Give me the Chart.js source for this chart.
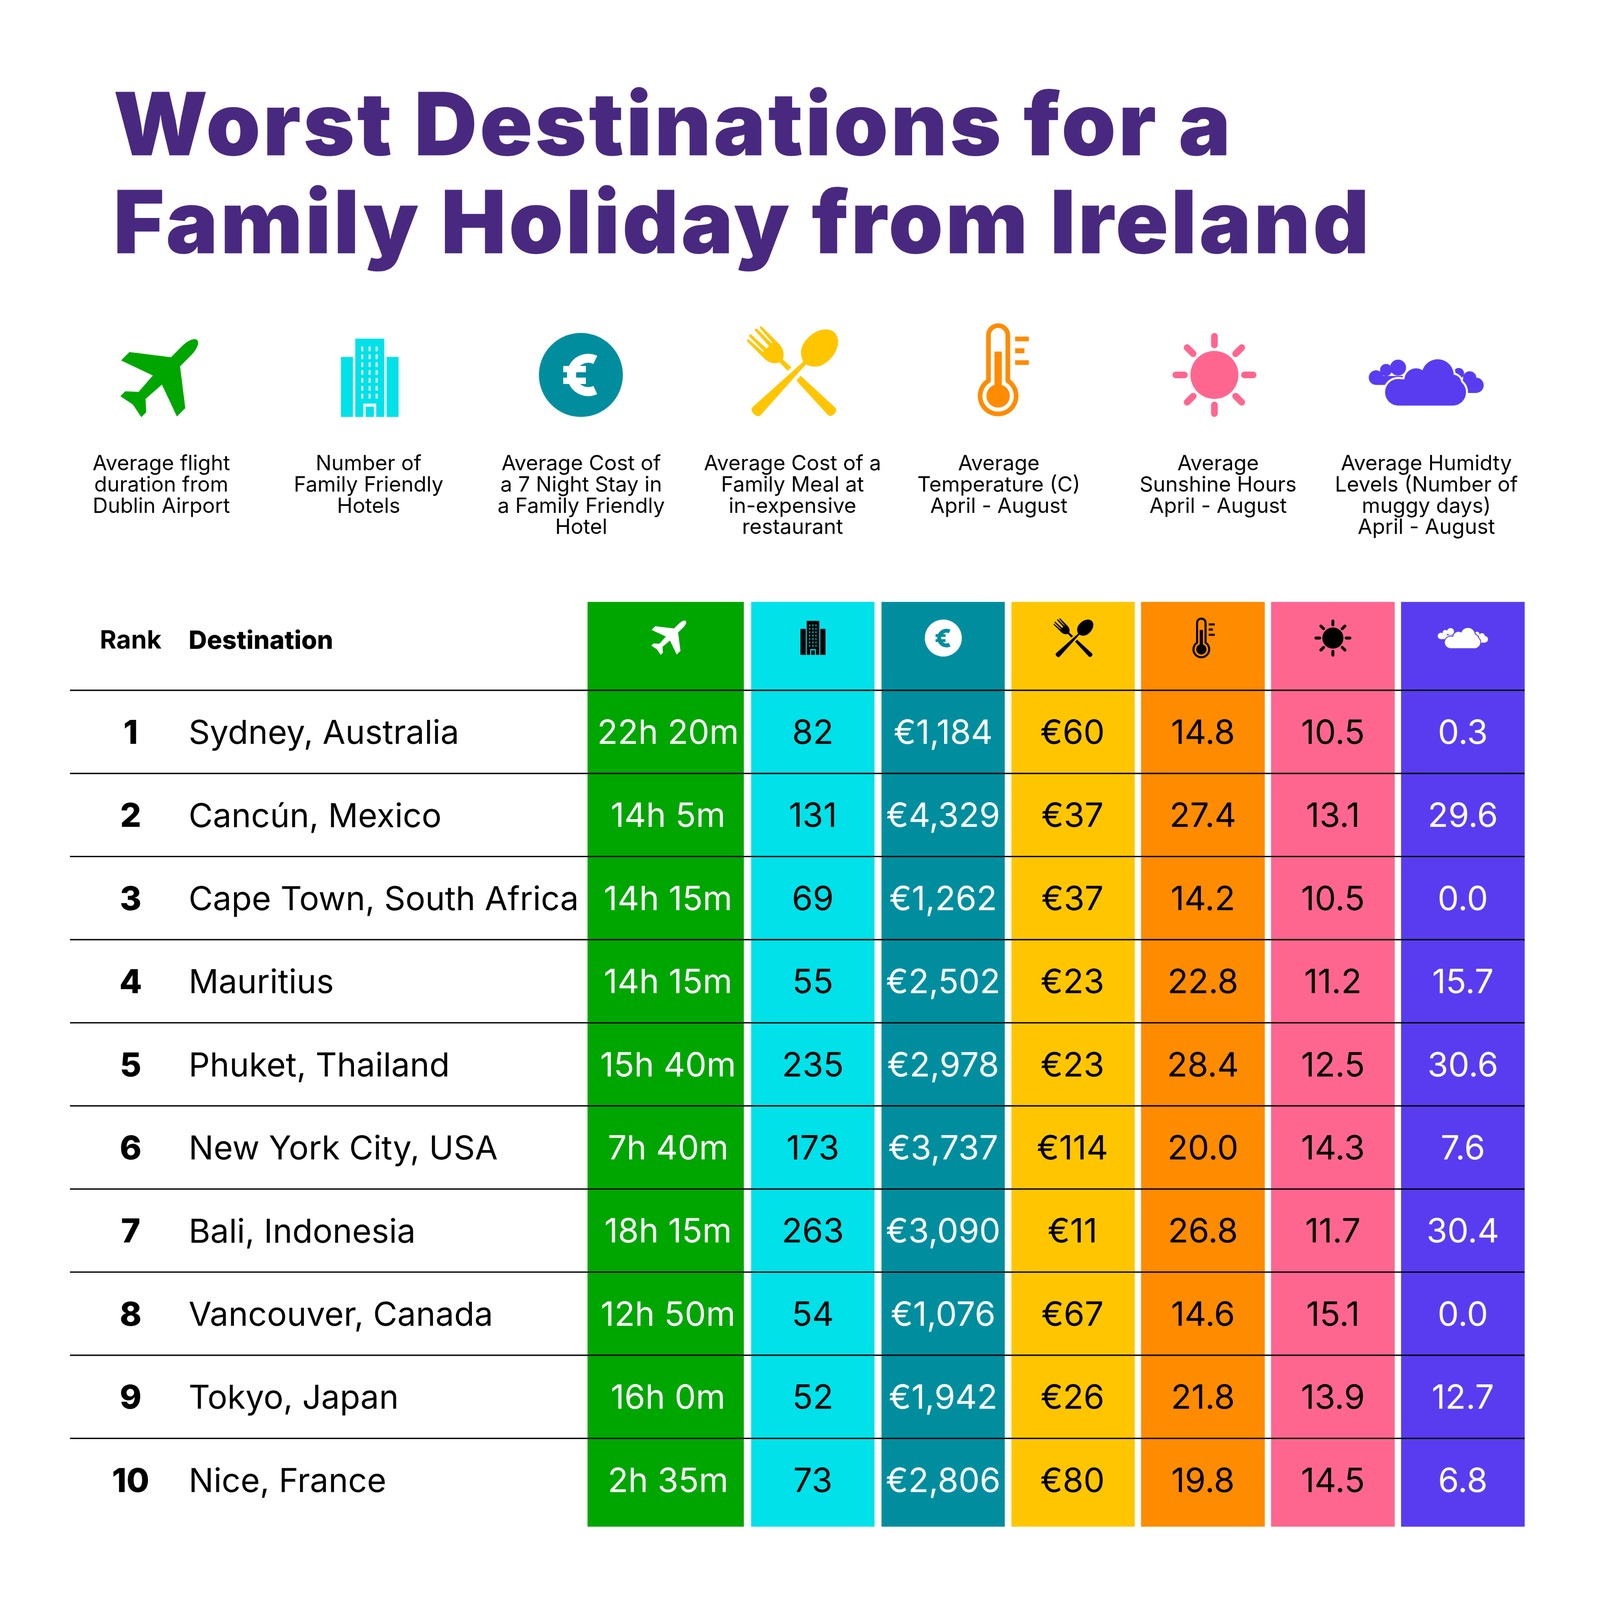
<!DOCTYPE html>
<html><head><meta charset="utf-8">
<style>html,body{margin:0;padding:0;background:#fff;overflow:hidden}canvas{display:block}</style>
<script src="https://cdn.jsdelivr.net/npm/chart.js@4"></script>
</head><body><canvas id="c" width="4801" height="4774" style="width:100vw;height:calc(100vw * 4774 / 4801)"></canvas>
<script>
const titleLines = ['Worst Destinations for a','Family Holiday from Ireland'];
const ranks = [1,2,3,4,5,6,7,8,9,10];
const destinations = ['Sydney, Australia','Cancún, Mexico','Cape Town, South Africa','Mauritius','Phuket, Thailand','New York City, USA','Bali, Indonesia','Vancouver, Canada','Tokyo, Japan','Nice, France'];
const flightDuration = ['22h 20m','14h 5m','14h 15m','14h 15m','15h 40m','7h 40m','18h 15m','12h 50m','16h 0m','2h 35m'];
const hotels = [82,131,69,55,235,173,263,54,52,73];
const stayCost = ['€1,184','€4,329','€1,262','€2,502','€2,978','€3,737','€3,090','€1,076','€1,942','€2,806'];
const mealCost = ['€60','€37','€37','€23','€23','€114','€11','€67','€26','€80'];
const temperature = ['14.8','27.4','14.2','22.8','28.4','20.0','26.8','14.6','21.8','19.8'];
const sunshine = ['10.5','13.1','10.5','11.2','12.5','14.3','11.7','15.1','13.9','14.5'];
const humidity = ['0.3','29.6','0.0','15.7','30.6','7.6','30.4','0.0','12.7','6.8'];
const captions = [
 ['Average flight','duration from','Dublin Airport'],
 ['Number of','Family Friendly','Hotels'],
 ['Average Cost of','a 7 Night Stay in','a Family Friendly','Hotel'],
 ['Average Cost of a','Family Meal at','in-expensive','restaurant'],
 ['Average','Temperature (C)','April - August'],
 ['Average','Sunshine Hours','April - August'],
 ['Average Humidty','Levels (Number of','muggy days)','April - August']
];

// ---- layout (reference pixels) ----
const W=4801,H=4774, ROW_H=249.4, ROW1_Y=2196, TABLE_TOP=1806, TABLE_BOTTOM=4581, RULE_L=210, RULE_R=4575, HEADER_TEXT_Y=1924;
const valueOf = px => 1+(px-ROW1_Y)/ROW_H;
const columns = [
 {name:'flight',values:flightDuration,l:1763,r:2232,dx:7,fill:'#00A600',text:'#fff',icon:'plane',hFg:'#fff',capX:484,iconBox:[361,1020,231,232],hBox:[1954,1863,104,102]},
 {name:'hotels',values:hotels,l:2254,r:2624,dx:0,fill:'#00E1E9',text:'#000',icon:'building',hFg:'#000',capX:1106,iconBox:[1023,1016,173,235],hBox:[2402,1863,75,102]},
 {name:'stay',values:stayCost,l:2645,r:3015,dx:0,fill:'#008E9F',text:'#fff',icon:'euro',hFg:'#fff',capX:1744,iconBox:[1617,999,252,252],hBox:[2775,1859,111,111]},
 {name:'meal',values:mealCost,l:3035,r:3405,dx:-2,fill:'#FFC600',text:'#000',icon:'cutlery',hFg:'#000',capX:2378,iconBox:[2254,995,257,254],hBox:[3167,1862,112,110]},
 {name:'temperature',values:temperature,l:3424,r:3795,dx:0,fill:'#FF8B00',text:'#000',icon:'thermo',hFg:'#000',capX:2997,iconBox:[2934,970,153,281],hBox:[3578,1853,67,123]},
 {name:'sunshine',values:sunshine,l:3814,r:4185,dx:0,fill:'#FF668F',text:'#000',icon:'sun',hFg:'#000',capX:3655,iconBox:[3518,999,252,252],hBox:[3944,1859,111,111]},
 {name:'humidity',values:humidity,l:4204,r:4575,dx:0,fill:'#5A3CF0',text:'#fff',icon:'cloud',hFg:'#fff',capX:4280,iconBox:[4107,1078,345,139],hBox:[4314,1884,151,61]}
];
const FONT='Inter, sans-serif';
const TITLE_COLOR='#48297F';
const TICK_NUDGE=0.025;

// ---- icons, in own viewBoxes ----
const circle=(x,y,r)=>`M${x-r},${y}a${r},${r} 0 1,0 ${2*r},0a${r},${r} 0 1,0 ${-2*r},0Z`;
const ICONS={
 plane:{vb:[-85,-71,156,156],draw(c,fg,bg){c.rotate(Math.PI/4);c.fillStyle=fg;
   c.fill(new Path2D('M0,-100C8,-100 13,-85 13,-70L13,-38L80,14L80,38L13,14L10,58L30,76L30,90L0,84L-30,90L-30,76L-10,58L-13,14L-80,38L-80,14L-13,-38L-13,-70C-13,-85 -8,-100 0,-100Z'));}},
 building:{vb:[0,0,173,235],draw(c,fg,bg){c.fillStyle=fg;c.fillRect(0,55,36,180);c.fillRect(137,55,36,180);c.fillRect(43,0,87,235);
   c.fillStyle=bg;for(let i=0;i<7;i++)for(const x of [61,83,104])c.fillRect(x,24+i*23.6,6,14);
   c.fillRect(67,195,39,40);c.fillStyle=fg;c.fillRect(74,204,25,31);}},
 euro:{vb:[-126,-126,252,252],draw(c,fg,bg){c.fillStyle=fg;c.beginPath();c.arc(0,0,126,0,7);c.fill();
   c.strokeStyle=bg;c.lineWidth=27;c.lineCap='butt';c.beginPath();c.arc(22,0,50,Math.PI*0.36,Math.PI*1.64);c.stroke();
   c.fillStyle=bg;c.fillRect(-53,-27,68,19);c.fillRect(-53,8,68,19);}},
 cutlery:{vb:[0,0,273,269],draw(c,fg,bg){
   const fork=new Path2D('M-17,0Q-17,-14 0,-14Q17,-14 17,0L7,232Q34,245 34,280L34,355Q34,360 30,360Q26,360 26,355L22,295L18,295L18,362Q18,366 13,366Q9,366 9,362L6,295L-6,295L-9,362Q-9,366 -13,366Q-18,366 -18,362L-18,295L-22,295L-26,355Q-26,360 -30,360Q-34,360 -34,355L-34,280Q-34,245 -7,232Z');
   const spoon=new Path2D('M-17,0Q-17,-14 0,-14Q17,-14 17,0L6,215L6,222C40,235 46,265 46,290C46,330 25,362 0,362C-25,362 -46,330 -46,290C-46,265 -40,235 -6,222L-6,215Z');
   c.save();c.translate(255,252);c.rotate(-Math.PI/4);c.scale(0.97,-0.97);c.fillStyle=fg;c.fill(fork);c.restore();
   c.save();c.translate(18,252);c.rotate(Math.PI/4);c.scale(1.06,-0.97);c.strokeStyle=bg;c.lineWidth=22;c.stroke(spoon);c.fillStyle=fg;c.fill(spoon);c.restore();}},
 thermo:{vb:[0,0,153,281],draw(c,fg,bg){c.strokeStyle=fg;c.lineWidth=14;c.lineJoin='round';
   c.stroke(new Path2D('M32,172.5L32,36A29,29 0 0 1 90,36L90,172.5A54,54 0 1 1 32,172.5Z'));
   c.fillStyle=fg;c.beginPath();c.ellipse(61,218,35,35,0,0,7);c.fill();c.fillRect(50,85,22,120);
   c.fillRect(112,40,41,14);c.fillRect(112,75,28,15);c.fillRect(112,111,41,14);}},
 sun:{vb:[-126,-126,252,252],draw(c,fg,bg){c.fillStyle=fg;c.beginPath();c.arc(0,0,72,0,7);c.fill();
   c.strokeStyle=fg;c.lineWidth=20;c.lineCap='round';for(let i=0;i<8;i++){c.save();c.rotate(i*Math.PI/4);c.beginPath();c.moveTo(0,-90);c.lineTo(0,-116);c.stroke();c.restore();}}},
 cloud:{vb:[0,0,345,139],draw(c,fg,bg){
   const small=[circle(22,55,22),circle(52,32,18),circle(88,25,24),'M22,50H110V77H22Z',circle(270,42,16),circle(303,56,20),circle(322,78,23),'M270,60H322V101H270Z'].map(s=>new Path2D(s));
   const big=[circle(207,48,48),circle(142,62,35),circle(89,99,40),circle(252,99,40),circle(252,72,26),'M89,60H252V139H89Z'].map(s=>new Path2D(s));
   c.fillStyle=fg;small.forEach(p=>c.fill(p));c.strokeStyle=bg;c.lineWidth=12;big.forEach(p=>c.stroke(p));c.fillStyle=fg;big.forEach(p=>c.fill(p));}}
};
function drawIcon(c,name,box,fg,bg){const ic=ICONS[name],[vx,vy,vw,vh]=ic.vb;c.save();c.translate(box[0],box[1]);c.scale(box[2]/vw,box[3]/vh);c.translate(-vx,-vy);ic.draw(c,fg,bg);c.restore();}
function text(c,str,x,y,font,color,align,spacing){c.font=font;c.fillStyle=color;c.textAlign=align;c.textBaseline='alphabetic';c.letterSpacing=(spacing||0)+'px';c.fillText(str,x,y);c.letterSpacing='0px';}

const tablePlugin={id:'table',
 afterDatasetsDraw(chart){const c=chart.ctx,{y}=chart.scales;c.save();
  // title
  titleLines.forEach((s,i)=>text(c,s,340,466+i*294,`900 262px ${FONT}`,TITLE_COLOR,'left',7.3));
  // legend row
  columns.forEach(col=>{drawIcon(c,col.icon,col.iconBox,col.fill,'#fff');
    captions[columns.indexOf(col)].forEach((s,i)=>text(c,s,col.capX,1411+i*63.8,`400 63px ${FONT}`,'#000','center',0));
    drawIcon(c,col.icon,col.hBox,col.hFg,col.fill);});
  // header & ranks
  text(c,'Rank',392,1946,`700 76px ${FONT}`,'#000','center',0);
  ranks.forEach((r,i)=>text(c,String(r),392,y.getPixelForValue(r)+36,`800 99px ${FONT}`,'#000','center',0));
  // cell values
  columns.forEach((col,ci)=>{const meta=chart.getDatasetMeta(ci);
    col.values.forEach((v,i)=>text(c,String(v),meta.data[i+1].x+col.dx,y.getPixelForValue(ranks[i])+36,`400 101px ${FONT}`,col.text,'center',0));});
  c.restore();
 }};

const rowBounds=[[valueOf(TABLE_TOP),0.5],...ranks.map(r=>[r-0.5,r===10?valueOf(TABLE_BOTTOM):r+0.5])];
const datasets=columns.map((col,ci)=>({type:'bar',label:col.name,order:2,
   data:rowBounds.map(b=>({x:(col.l+col.r)/2,y:b})),
   backgroundColor:col.fill,borderWidth:0,barThickness:col.r-col.l,grouped:false,inflateAmount:0}));
[0,...ranks.slice(0,9)].forEach(r=>datasets.push({type:'line',label:'rule'+r,order:0,
   data:[{x:RULE_L,y:r+0.5},{x:RULE_R,y:r+0.5}],borderColor:'#000',borderWidth:4,pointRadius:0,tension:0}));

new Chart(document.getElementById('c'),{
 type:'bar',data:{datasets},plugins:[tablePlugin],
 options:{responsive:false,animation:false,devicePixelRatio:1,events:[],
  layout:{padding:0},
  plugins:{legend:{display:false},title:{display:false},tooltip:{enabled:false}},
  scales:{
   x:{type:'linear',min:0,max:W,display:false,offset:false,grid:{offset:false}},
   y:{type:'linear',reverse:true,min:valueOf(0),max:valueOf(H),position:'left',offset:false,beginAtZero:false,
      afterBuildTicks(a){a.ticks=[valueOf(HEADER_TEXT_Y),...ranks.map(v=>v+TICK_NUDGE)].map(v=>({value:v}));},
      afterFit(a){a.width=0;a.paddingTop=0;a.paddingBottom=0;a.paddingLeft=0;a.paddingRight=0;},
      border:{display:false},grid:{display:false},
      ticks:{mirror:true,padding:566,autoSkip:false,color:'#000',
        callback:v=>v<0.5?'Destination':destinations[Math.round(v)-1],
        font:c=>c.index===0?{family:FONT,size:76,weight:'800'}:{family:FONT,size:99.5,weight:'400'}}}
  }}
});
</script></body></html>
